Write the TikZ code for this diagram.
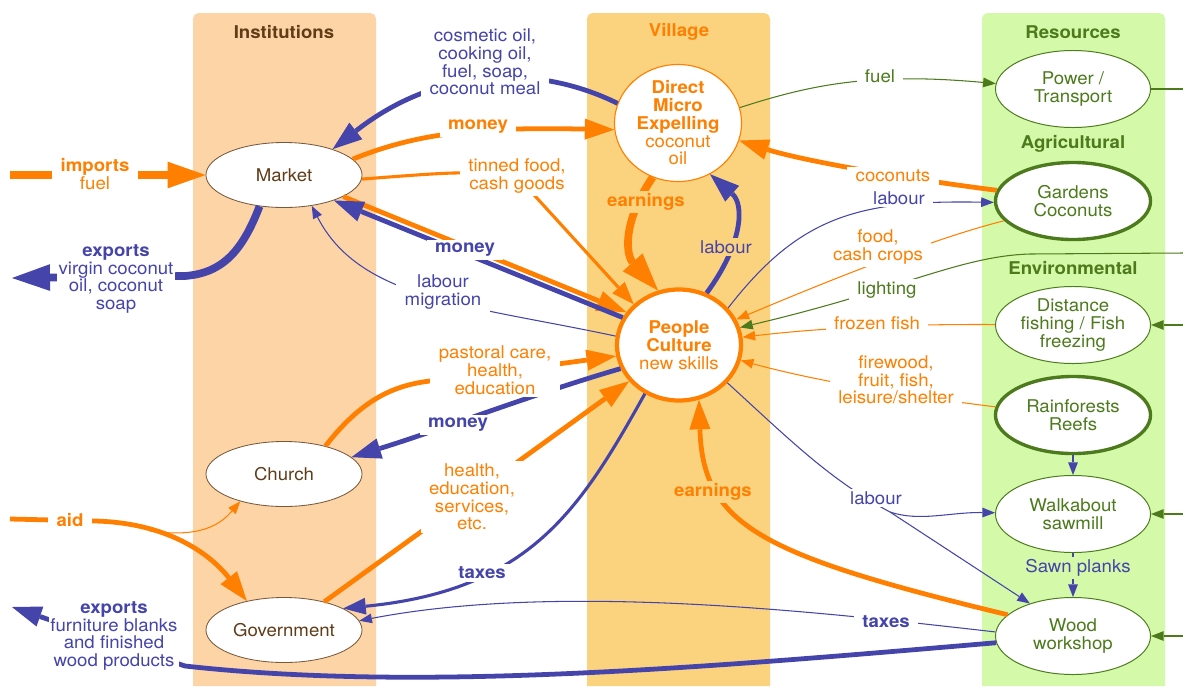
\documentclass[tikz,border=0pt]{standalone}
\usepackage{fontspec}
\setmainfont[FakeStretch=1.06]{TeX Gyre Heros}
\usetikzlibrary{shapes.geometric,arrows.meta}

\definecolor{instbg}{RGB}{253,212,166}
\definecolor{villbg}{RGB}{251,211,126}
\definecolor{resbg}{RGB}{212,249,168}
\definecolor{orng}{RGB}{255,127,0}
\definecolor{blu}{RGB}{68,68,170}
\definecolor{grn}{RGB}{76,122,28}
\definecolor{brwn}{RGB}{96,60,24}

\tikzset{
  txt/.style={font=\fontsize{12.5}{12.6}\selectfont, align=center},
  inst/.style={txt, ellipse, draw=brwn!85, fill=white, text=brwn, line width=0.6pt,
    minimum width=3.9cm, minimum height=1.625cm, inner sep=0pt},
  res/.style={txt, ellipse, draw=grn, fill=white, text=grn, line width=0.7pt,
    minimum width=3.875cm, minimum height=1.925cm, inner sep=-2pt},
  resmain/.style={res, line width=2.4pt},
  vil/.style={txt, ellipse, draw=orng, fill=white, text=orng, inner sep=-4pt},
  coltitle/.style={font=\fontsize{12.5}{13}\selectfont\bfseries},
  wlbl/.style={txt, fill=white, inner xsep=6pt, inner ysep=2pt},
  glbl/.style={wlbl, fill=villbg},
  rlbl/.style={wlbl, fill=resbg, inner xsep=1pt},
  xlflow/.style={line width=5.5pt, -{Triangle[length=27pt,width=19pt,line width=0pt]}},
  lflow/.style={line width=3.4pt, -{Triangle[length=21pt,width=15pt,line width=0pt]}},
  mflow/.style={line width=2.2pt, -{Triangle[length=16pt,width=12pt,line width=0pt]}},
  sflow/.style={line width=0.75pt, -{Triangle[length=9pt,width=7pt,line width=0pt]}},
}

\begin{document}
\begin{tikzpicture}[x=0.025cm, y=-0.025cm]
  \useasboundingbox (0,0) rectangle (1183,686);
  \fill[white] (0,0) rectangle (1183,686);

  % columns
  \foreach \x/\c in {193/instbg, 587/villbg, 982/resbg}
    \fill[\c] (\x,686) [rounded corners=4pt] -- (\x,13) -- (\x+183,13) [sharp corners] -- (\x+183,686) -- cycle;

  \node[coltitle, text=brwn] (tInst) at (284,32) {Institutions};
  \node[coltitle, text=orng] (tVill) at (679,32) {Village};
  \node[coltitle, text=grn] (tRes) at (1073,32) {Resources};
  \node[coltitle, text=grn] (tAgri) at (1073,144) {Agricultural};
  \node[coltitle, text=grn] (tEnv) at (1073,268) {Environmental};

  % institutions
  \node[inst] (Market) at (284,175) {Market};
  \node[inst] (Church) at (284,474) {Church};
  \node[inst] (Government) at (284,630) {Government};

  % village
  \node[vil, line width=0.8pt, minimum width=3.175cm, minimum height=2.925cm] (Expelling) at (678,123)
    {\textbf{Direct}\\\textbf{Micro}\\\textbf{Expelling}\\coconut\\oil};
  \node[vil, line width=3pt, minimum width=3.1cm, minimum height=2.775cm] (People) at (679,345)
    {\textbf{People}\\\textbf{Culture}\\new skills};

  % resources
  \node[res] (Power) at (1073,89) {Power /\\Transport};
  \node[resmain] (Gardens) at (1073,201) {Gardens\\Coconuts};
  \node[res] (Distance) at (1073,325) {Distance\\fishing / Fish\\freezing};
  \node[resmain] (Rainforests) at (1073,415) {Rainforests\\Reefs};
  \node[res] (Walkabout) at (1073,514) {Walkabout\\sawmill};
  \node[res] (Wood) at (1073,636) {Wood\\workshop};

  % free ends
  \coordinate (impIn) at (10,175);
  \coordinate (vcoOut) at (12,278);
  \coordinate (furnOut) at (12,607);
  \coordinate (aidIn) at (10,519);
  \coordinate (aidSplit) at (150,531);
  \coordinate (pwrOut) at (1183,89);
  \coordinate (lightIn) at (1183,253);
  \coordinate (fishIn) at (1183,325);
  \coordinate (sawIn) at (1183,514);
  \coordinate (woodIn) at (1183,636);
  \coordinate (labSplit) at (890,512);

  % market
  \draw[xlflow, orng] (impIn) -- (Market);
  \draw[xlflow, blu] (Market.-128) .. controls (242,252) and (222,273) .. (185,276) -- (vcoOut);
  \draw[lflow, blu] (Expelling.162) .. controls (540,65) and (440,65) .. (Market.28);
  \draw[lflow, orng] (Market.13) .. controls (420,132) and (480,127) .. (Expelling.186);
  \draw[mflow, orng] (Market.-3) .. controls (480,170) .. (525,185) -- (People.138);
  \draw[lflow, orng] (Market.-20) -- (People.148);
  \draw[lflow, blu] (People.154) -- (Market.-27);
  \draw[sflow, blu] (People.172) .. controls (470,305) and (360,300) .. (Market.-48);

  % church and government
  \draw[lflow, orng] (Church.34) .. controls (365,395) and (400,383) .. (440,380) -- (People.190);
  \draw[lflow, blu] (People.202) .. controls (530,395) and (440,430) .. (Church.14);
  \draw[lflow, orng] (Government.35) -- (People.216);
  \draw[mflow, blu] (People.235) .. controls (580,510) and (530,590) .. (Government.20);
  \draw[sflow, blu] (Wood.177) .. controls (820,612) and (560,582) .. (Government.7);
  \draw[lflow, blu] (Wood.185) .. controls (700,668) and (420,692) .. (185,666) -- (furnOut);
  \draw[lflow, orng] (aidIn) -- (95,521) .. controls (175,523) and (215,560) .. (Government.142);
  \draw[sflow, orng] (aidSplit) .. controls (200,538) and (220,525) .. (Church.-148);

  % inside the village
  \draw[xlflow, orng] (Expelling.-115) .. controls (622,222) and (626,255) .. (People.111);
  \draw[lflow, blu] (People.62) .. controls (742,245) and (745,205) .. (Expelling.-58);
  \draw[lflow, orng] (Wood.162) .. controls (760,555) and (703,525) .. (People.-70);

  % resources
  \draw[sflow, grn] (Expelling.14) .. controls (810,85) and (870,72) .. (Power.176);
  \draw[grn, line width=0.75pt] (Power) -- (pwrOut);
  \draw[lflow, orng] (Gardens.172) .. controls (900,178) and (800,160) .. (Expelling.-16);
  \draw[sflow, blu] (People.37) .. controls (800,215) and (860,200) .. (Gardens.181);
  \draw[sflow, orng] (Gardens.-164) .. controls (935,238) and (830,280) .. (People.24);
  \draw[sflow, grn] (lightIn) -- (1030,254) .. controls (960,256) and (900,290) .. (People.16);
  \draw[sflow, orng] (Distance) .. controls (900,324) and (820,328) .. (People.7);
  \draw[sflow, orng] (Rainforests.174) .. controls (940,400) and (830,385) .. (People.-14);
  \draw[sflow, blu, -] (People.-38) .. controls (790,440) and (830,480) .. (labSplit);
  \draw[sflow, blu] (labSplit) .. controls (920,522) and (950,512) .. (Walkabout);
  \draw[sflow, blu] (labSplit) -- (Wood.143);
  \draw[sflow, blu] (Rainforests) -- (Walkabout);
  \draw[sflow, blu] (Walkabout) -- (Wood);
  \foreach \s/\t in {fishIn/Distance, sawIn/Walkabout, woodIn/Wood}
    \draw[sflow, grn] (\s) -- (\t);

  % labels
  \node[wlbl, text=orng] (lImports) at (95,174) {\textbf{imports}\\fuel};
  \node[wlbl, inner xsep=1pt, text=blu] (lExpOil) at (116,279) {\textbf{exports}\\virgin coconut\\oil, coconut\\soap};
  \node[wlbl, text=blu] (lCosmetic) at (485,62) {cosmetic oil,\\cooking oil,\\fuel, soap,\\coconut meal};
  \node[wlbl, text=orng] (lMoneyTop) at (478,127) {\textbf{money}};
  \node[wlbl, text=orng] (lTinned) at (517,176) {tinned food,\\cash goods};
  \node[wlbl, text=blu] (lMoneyMid) at (465,250) {\textbf{money}};
  \node[wlbl, text=blu] (lMigration) at (443,292) {labour\\migration};
  \node[wlbl, text=orng] (lPastoral) at (495,370) {pastoral care,\\health,\\education};
  \node[wlbl, text=blu] (lMoneyLow) at (458,425) {\textbf{money}};
  \node[wlbl, text=orng] (lServices) at (472,497) {health,\\education,\\services,\\etc.};
  \node[wlbl, text=blu] (lTaxesUp) at (482,573) {\textbf{taxes}};
  \node[wlbl, text=orng] (lAid) at (70,520) {\textbf{aid}};
  \node[wlbl, inner xsep=1pt, text=blu] (lExpWood) at (114,636) {\textbf{exports}\\furniture blanks\\and finished\\wood products};
  \node[glbl, text=orng] (lEarnUp) at (646,202) {\textbf{earnings}};
  \node[glbl, text=blu] (lLabourUp) at (726,247) {labour};
  \node[glbl, text=orng] (lEarnLow) at (713,492) {\textbf{earnings}};
  \node[wlbl, text=grn] (lFuel) at (880,76) {fuel};
  \node[wlbl, text=orng] (lCoconuts) at (893,176) {coconuts};
  \node[wlbl, text=blu] (lLabourRes) at (899,198) {labour};
  \node[wlbl, text=orng] (lFood) at (878,247) {food,\\cash crops};
  \node[wlbl, text=grn] (lLighting) at (887,290) {lighting};
  \node[wlbl, text=orng] (lFrozen) at (877,323) {frozen fish};
  \node[wlbl, text=orng] (lFirewood) at (896,380) {firewood,\\fruit, fish,\\leisure/shelter};
  \node[wlbl, text=blu] (lLabourLow) at (876,498) {labour};
  \node[rlbl, text=blu] (lSawn) at (1078,568) {Sawn planks};
  \node[wlbl, text=blu] (lTaxesLow) at (886,622) {\textbf{taxes}};
\end{tikzpicture}
\end{document}
